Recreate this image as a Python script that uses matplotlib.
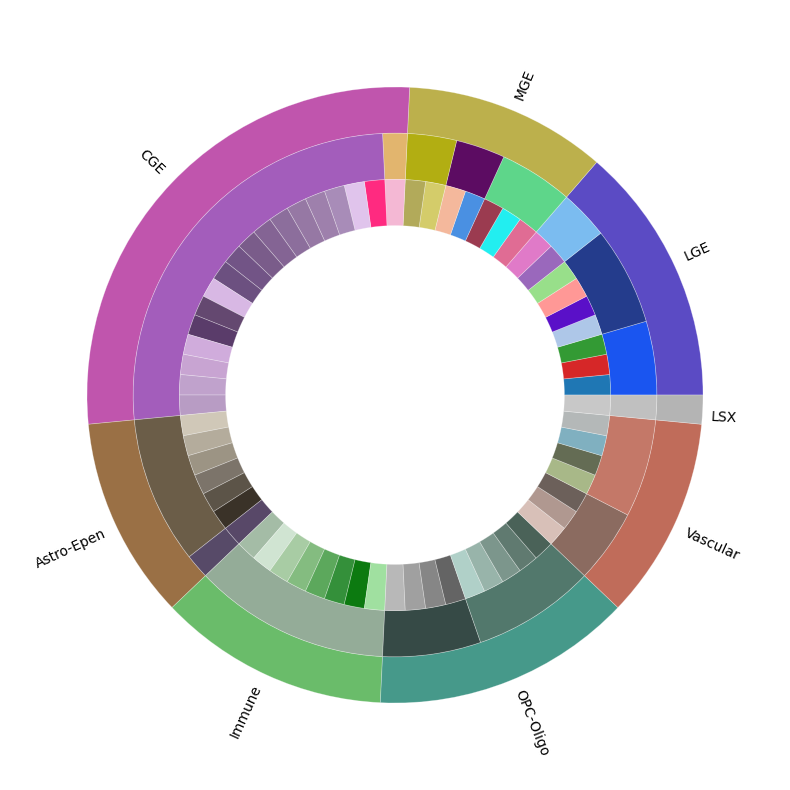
import matplotlib
matplotlib.use('Agg')
import matplotlib.pyplot as plt

# outer ring: classes (counter-clockwise from 0 deg)
classes = ['LGE', 'MGE', 'CGE', 'Astro-Epen', 'Immune', 'OPC-Oligo', 'Vascular', 'LSX']
class_colors = ['#5b4bc4', '#bcb04c', '#c055ad', '#9a7045',
                '#6abc6a', '#46998a', '#c06c5a', '#b4b4b4']
subclasses_per_class = [3, 3, 2, 2, 1, 2, 2, 1]

# middle ring: subclasses, value = number of clusters
subclass_clusters = [3, 4, 2,
                     3, 2, 2,
                     1, 17,
                     6, 1,
                     8,
                     4, 5,
                     3, 4,
                     1]
subclass_colors = ['#1a55f0', '#243c8c', '#7bbcf0',
                   '#5ed68a', '#5c0c62', '#b2ae12',
                   '#e2b56e', '#a35dbb',
                   '#6b5d48', '#574a68',
                   '#94ac98',
                   '#364a46', '#52786c',
                   '#8b6b60', '#c47868',
                   '#c0c0c0']

# inner ring: clusters
cluster_sizes = [1, 1, 1, 1, 1, 1, 1, 1, 1,
                 1, 1, 1, 1, 1, 1, 1,
                 1, 1, 1, 1, 1, 1, 1, 1, 1, 1, 1, 1, 1, 1, 1, 1, 1, 1,
                 1, 1, 1, 1, 1, 1, 1,
                 1, 1, 1, 1, 1, 1, 1, 1,
                 1, 1, 1, 1, 1, 1, 1, 1, 1,
                 1, 1, 1, 1, 1, 1, 1,
                 1]
cluster_colors = [
    # LGE
    '#1f77b4', '#d62728', '#339a34', '#aec7e8', '#5a10c8', '#ff9896', '#98df8a', '#9a68bc', '#e07ac8',
    # MGE
    '#e06c94', '#22eef0', '#9b3b50', '#4a90e2', '#f4b89c', '#d4cc6a', '#b2aa5a',
    # CGE
    '#f4b8d4', '#ff2a80', '#e0c4ec', '#a88cb8', '#9e80ac', '#9678a4', '#8c6e9c', '#846494',
    '#7a5c8a', '#725486', '#6c5080', '#d8b8e4', '#644870', '#5a3c6a', '#d0acdc', '#c8a4d2',
    '#c0a2cc', '#b89cc4',
    # Astro-Epen
    '#d0c8b8', '#b4ac9c', '#9c9484', '#7c746a', '#5c5448', '#3a3228', '#584868',
    # Immune
    '#a4bca6', '#d0e4d2', '#a8cca4', '#84bc80', '#5ca85c', '#34903a', '#0c7a10', '#a0e0a0',
    # OPC-Oligo
    '#b8b8b8', '#a0a0a0', '#868686', '#646464', '#b0d0c8', '#98b4aa', '#7c968c', '#607a70', '#4a6258',
    # Vascular
    '#d8c0b8', '#b09890', '#6c605a', '#a8b888', '#646c54', '#80b0c0', '#b4b8b8',
    # LSX
    '#c8c8c8',
]

# class totals from the subclasses
class_sizes = []
i = 0
for n in subclasses_per_class:
    class_sizes.append(sum(subclass_clusters[i:i + n]))
    i += n

fig = plt.figure(figsize=(7.9, 7.9), dpi=100)
ax = fig.add_axes([0, 0, 1, 1])

width = 0.15
edge = dict(width=width, edgecolor=(1, 1, 1, 0.35), linewidth=0.5)

ax.pie(class_sizes, radius=1.0, colors=class_colors, labels=classes,
       rotatelabels=True, labeldistance=1.025, wedgeprops=edge,
       textprops=dict(fontsize=10))
ax.pie(subclass_clusters, radius=1.0 - width, colors=subclass_colors, wedgeprops=edge)
ax.pie(cluster_sizes, radius=1.0 - 2 * width, colors=cluster_colors, wedgeprops=edge)

lim = 395 / 308
ax.set_xlim(-lim, lim)
ax.set_ylim(-lim, lim)
ax.set_aspect('equal')
ax.axis('off')

fig.savefig('out.png', dpi=100)
